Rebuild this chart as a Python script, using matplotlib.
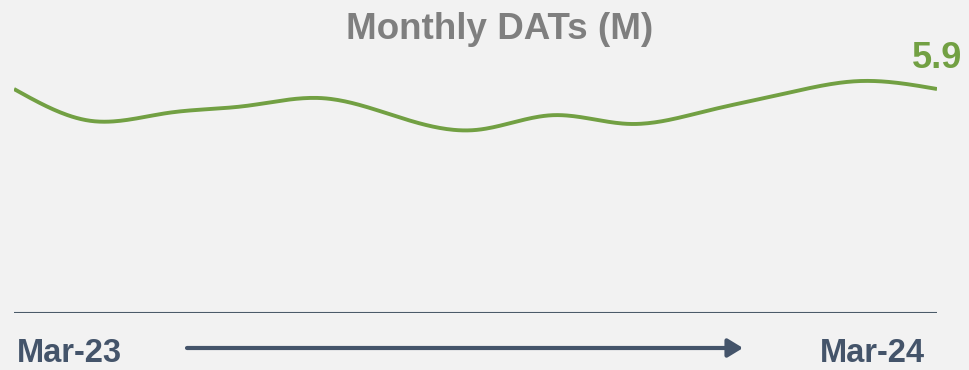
import numpy as np
import matplotlib
matplotlib.use("Agg")
import matplotlib.pyplot as plt
from matplotlib.patches import FancyArrowPatch

# Monthly DATs (millions), Mar-23 .. Mar-24
months = ["Mar-23", "Apr-23", "May-23", "Jun-23", "Jul-23", "Aug-23", "Sep-23",
          "Oct-23", "Nov-23", "Dec-23", "Jan-24", "Feb-24", "Mar-24"]
dats = [5.90, 5.06, 5.27, 5.45, 5.66, 5.16, 4.82, 5.21, 4.98, 5.32, 5.77, 6.11, 5.90]
title = "Monthly DATs (M)"
start_label = months[0]
end_label = months[-1]

BG = "#f2f2f2"
GREEN = "#72a043"
GREY = "#7f7f7f"
SLATE = "#44546a"
BASE = "#4b5b69"
FONT = "Liberation Sans"


def natural_spline(x, y, n=400):
    x = np.asarray(x, float)
    y = np.asarray(y, float)
    k = len(x)
    h = np.diff(x)
    A = np.zeros((k, k))
    b = np.zeros(k)
    A[0, 0] = A[-1, -1] = 1
    for i in range(1, k - 1):
        A[i, i - 1] = h[i - 1]
        A[i, i] = 2 * (h[i - 1] + h[i])
        A[i, i + 1] = h[i]
        b[i] = 3 * ((y[i + 1] - y[i]) / h[i] - (y[i] - y[i - 1]) / h[i - 1])
    c = np.linalg.solve(A, b)
    xs = np.linspace(x[0], x[-1], n)
    idx = np.clip(np.searchsorted(x, xs) - 1, 0, k - 2)
    dx = xs - x[idx]
    bb = (y[idx + 1] - y[idx]) / h[idx] - h[idx] * (2 * c[idx] + c[idx + 1]) / 3
    dd = (c[idx + 1] - c[idx]) / (3 * h[idx])
    ys = y[idx] + bb * dx + c[idx] * dx ** 2 + dd * dx ** 3
    return xs, ys


W, H = 969, 370
fig = plt.figure(figsize=(W / 100, H / 100), dpi=100, facecolor=BG)

left, right = 14 / W, 937 / W
bottom, top = (H - 313) / H, (H - 40) / H
ax = fig.add_axes([left, bottom, right - left, top - bottom])
ax.set_facecolor(BG)
for s in ax.spines.values():
    s.set_visible(False)
ax.set_xticks([])
ax.set_yticks([])

x = np.arange(len(dats))
xs, ys = natural_spline(x, dats)
ax.plot(xs, ys, color=GREEN, lw=2.8, solid_capstyle="butt")
ax.axhline(0, color=BASE, lw=1.5)
ax.set_xlim(0, len(dats) - 1)
px_per_unit = 224 / 5.9
ax.set_ylim(0, (313 - 40) / px_per_unit)

ax.annotate(f"{dats[-1]:.1f}", xy=(x[-1], dats[-1]), xytext=(0, 15),
            textcoords="offset points", ha="center", va="baseline",
            color=GREEN, fontsize=26, fontweight="bold", family=FONT,
            annotation_clip=False)

fig.text(500 / W, 1 - 39 / H, title, ha="center", va="baseline",
         color=GREY, fontsize=26.5, fontweight="bold", family=FONT)

fig.text(17 / W, 1 - 362 / H, start_label, ha="left", va="baseline",
         color=SLATE, fontsize=23.5, fontweight="bold", family=FONT)
fig.text(925 / W, 1 - 362 / H, end_label, ha="right", va="baseline",
         color=SLATE, fontsize=23.5, fontweight="bold", family=FONT)

fig.patches.append(FancyArrowPatch(
    (187 / W, 1 - 348 / H), (743 / W, 1 - 348 / H), transform=fig.transFigure,
    arrowstyle="-|>,head_length=9,head_width=5.5", mutation_scale=1,
    color=SLATE, lw=3, shrinkA=0, shrinkB=0))

fig.savefig("out.png", dpi=100, facecolor=BG)
